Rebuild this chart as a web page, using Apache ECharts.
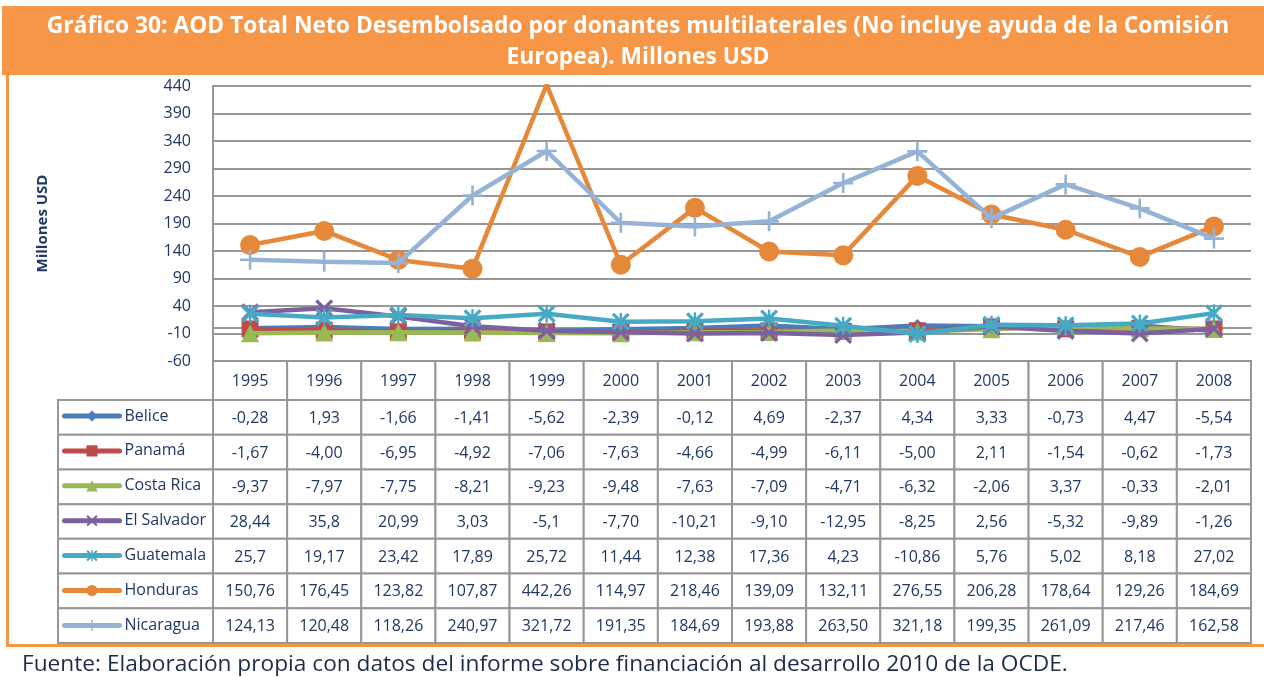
<!DOCTYPE html>
<html>
<head>
<meta charset="utf-8">
<script src="https://cdn.jsdelivr.net/npm/echarts@6/dist/echarts.min.js"></script>
<style>
html,body{margin:0;padding:0;background:#fff;}
#chart{width:1264px;height:677px;}
</style>
</head>
<body>
<div id="chart"></div>
<script>
// ---- data ----
const years = ['1995','1996','1997','1998','1999','2000','2001','2002','2003','2004','2005','2006','2007','2008'];
const seriesNames = ['Belice','Panamá','Costa Rica','El Salvador','Guatemala','Honduras','Nicaragua'];
const belice     = ['-0.28','1.93','-1.66','-1.41','-5.62','-2.39','-0.12','4.69','-2.37','4.34','3.33','-0.73','4.47','-5.54'];
const panama     = ['-1.67','-4.00','-6.95','-4.92','-7.06','-7.63','-4.66','-4.99','-6.11','-5.00','2.11','-1.54','-0.62','-1.73'];
const costaRica  = ['-9.37','-7.97','-7.75','-8.21','-9.23','-9.48','-7.63','-7.09','-4.71','-6.32','-2.06','3.37','-0.33','-2.01'];
const elSalvador = ['28.44','35.8','20.99','3.03','-5.1','-7.70','-10.21','-9.10','-12.95','-8.25','2.56','-5.32','-9.89','-1.26'];
const guatemala  = ['25.7','19.17','23.42','17.89','25.72','11.44','12.38','17.36','4.23','-10.86','5.76','5.02','8.18','27.02'];
const honduras   = ['150.76','176.45','123.82','107.87','442.26','114.97','218.46','139.09','132.11','276.55','206.28','178.64','129.26','184.69'];
const nicaragua  = ['124.13','120.48','118.26','240.97','321.72','191.35','184.69','193.88','263.50','321.18','199.35','261.09','217.46','162.58'];
const yMin = -60, yMax = 440, yStep = 50;
const titleLines = ['Gráfico 30: AOD Total Neto Desembolsado por donantes multilaterales (No incluye ayuda de la Comisión', 'Europea). Millones USD'];
const yAxisTitle = 'Millones USD';
const sourceText = 'Fuente: Elaboración propia con datos del informe sobre financiación al desarrollo 2010 de la OCDE.';

// ---- styling ----
const allValues = [belice, panama, costaRica, elSalvador, guatemala, honduras, nicaragua];
const colors = ['#4A7EBB','#BE4B48','#98B954','#7D60A0','#46AAC5','#E5883A','#95B3D7'];
const xPath = 'M0,1.3 L1.3,0 L5,3.7 L8.7,0 L10,1.3 L6.3,5 L10,8.7 L8.7,10 L5,6.3 L1.3,10 L0,8.7 L3.7,5 Z';
const vBar = 'M4.35,0 L5.65,0 L5.65,10 L4.35,10 Z';
const hBar = 'M0,4.35 L10,4.35 L10,5.65 L0,5.65 Z';
const symbols = ['diamond','rect','triangle','path://' + xPath, 'path://' + xPath + ' ' + vBar, 'circle', 'path://' + vBar + ' ' + hBar];
const symSizes = [13, 17, 18, 18, 18, 20, 20];
const navy = '#1F3864';
const gridGray = '#979797';
const font = '"Open Sans", sans-serif';

const L = 213, R = 1251, T = 86, B = 361, HB = 400, TB = 643, LL = 58;

const chart = echarts.init(document.getElementById('chart'));

const lineSeries = seriesNames.map((name, i) => ({
  name: name,
  type: 'line',
  xAxisIndex: 0, yAxisIndex: 0,
  data: allValues[i].map(v => {
    const n = Number(v);
    return n > yMax ? {value: n, symbol: 'none'} : n;
  }),
  symbol: symbols[i],
  symbolSize: symSizes[i],
  showAllSymbol: true,
  clip: true,
  itemStyle: {color: colors[i]},
  lineStyle: {color: colors[i], width: 4.5},
  emphasis: {disabled: true},
  animation: false,
  z: 3 + i * 0.01
}));

function cellRender(labels) {
  return function (params, api) {
    const c = api.coord([api.value(0), api.value(1)]);
    const s = api.size([1, 1]);
    const children = [{
      type: 'rect',
      shape: {x: c[0] - s[0] / 2, y: c[1] - s[1] / 2, width: s[0], height: s[1]},
      style: {fill: '#fff', stroke: gridGray, lineWidth: 2}
    }];
    if (labels) {
      children.push({
        type: 'text', x: c[0], y: c[1] + 1,
        style: {text: labels[params.dataIndex], fill: navy, font: '16px ' + font, align: 'center', verticalAlign: 'middle'}
      });
    }
    return {type: 'group', children: children};
  };
}

const headerData = years.map((y, i) => [i, 0]);
const tableData = [], tableLabels = [];
allValues.forEach((arr, r) => arr.forEach((v, c) => { tableData.push([c, r]); tableLabels.push(v.replace('.', ',')); }));
const legendCellData = seriesNames.map((n, r) => [0, r]);

const option = {
  animation: false,
  textStyle: {fontFamily: font},
  grid: [
    {left: L, top: T, width: R - L, height: B - T},
    {left: L, top: B, width: R - L, height: HB - B},
    {left: L, top: HB, width: R - L, height: TB - HB},
    {left: LL, top: HB, width: L - LL, height: TB - HB}
  ],
  xAxis: [
    {gridIndex: 0, type: 'category', data: years, boundaryGap: true,
     axisLine: {show: true, onZero: true, lineStyle: {color: gridGray, width: 2}},
     axisTick: {show: false}, axisLabel: {show: false}, splitLine: {show: false}},
    {gridIndex: 1, type: 'category', data: years, show: false},
    {gridIndex: 2, type: 'category', data: years, show: false},
    {gridIndex: 3, type: 'category', data: ['n'], show: false}
  ],
  yAxis: [
    {gridIndex: 0, type: 'value', min: yMin, max: yMax, interval: yStep,
     name: yAxisTitle, nameLocation: 'middle', nameRotate: 90, nameGap: 163,
     nameTextStyle: {color: navy, fontSize: 15, fontWeight: 'bold', fontFamily: font},
     axisLine: {show: true, lineStyle: {color: gridGray, width: 2}},
     axisTick: {show: false},
     axisLabel: {color: navy, fontSize: 16, margin: 22, fontFamily: font},
     splitLine: {show: true, lineStyle: {color: gridGray, width: 2}}},
    {gridIndex: 1, type: 'category', data: ['h'], show: false},
    {gridIndex: 2, type: 'category', data: seriesNames, inverse: true, show: false},
    {gridIndex: 3, type: 'category', data: seriesNames, inverse: true, show: false}
  ],
  legend: {
    orient: 'vertical', left: 62, top: 408, padding: 0,
    itemWidth: 55, itemHeight: 14, itemGap: 18.9,
    selectedMode: false,
    lineStyle: {width: 5, cap: 'round'},
    textStyle: {color: navy, fontSize: 16, fontFamily: font},
    data: seriesNames
  },
  series: [
    {type: 'custom', xAxisIndex: 1, yAxisIndex: 1, data: headerData, renderItem: cellRender(years), z: 1, silent: true},
    {type: 'custom', xAxisIndex: 2, yAxisIndex: 2, data: tableData, renderItem: cellRender(tableLabels), z: 1, silent: true},
    {type: 'custom', xAxisIndex: 3, yAxisIndex: 3, data: legendCellData, renderItem: cellRender(null), z: 1, silent: true}
  ].concat(lineSeries),
  graphic: [
    {type: 'rect', shape: {x: 2, y: 6, width: 1262, height: 69}, style: {fill: '#F79646'}, z: 0},
    {type: 'rect', shape: {x: 6, y: 75, width: 3, height: 571}, style: {fill: '#F79646'}, z: 0},
    {type: 'rect', shape: {x: 6, y: 644, width: 1258, height: 3}, style: {fill: '#F79646'}, z: 0},
    {type: 'text', x: 638, y: 27, style: {text: titleLines[0], fill: '#fff', font: 'bold 22.8px ' + font, align: 'center', verticalAlign: 'middle'}, z: 5},
    {type: 'text', x: 638, y: 58, style: {text: titleLines[1], fill: '#fff', font: 'bold 22.8px ' + font, align: 'center', verticalAlign: 'middle'}, z: 5},
    {type: 'text', x: 22, y: 665, style: {text: sourceText, fill: '#1c2b48', font: '22.7px ' + font, align: 'left', verticalAlign: 'middle'}, z: 5}
  ]
};
chart.setOption(option);
</script>
</body>
</html>
